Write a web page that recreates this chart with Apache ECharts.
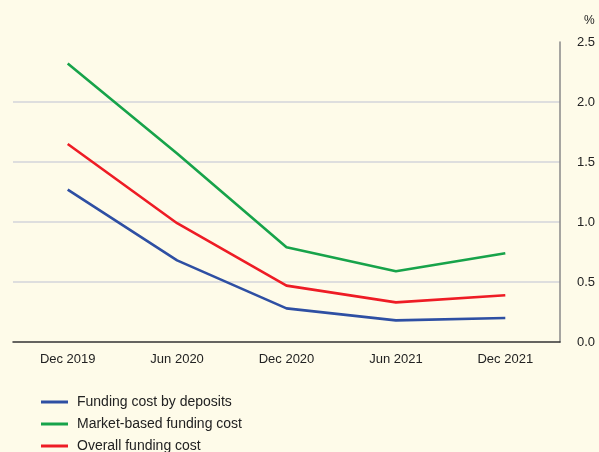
<!DOCTYPE html>
<html>
<head>
<meta charset="utf-8">
<script src="https://cdn.jsdelivr.net/npm/echarts@6/dist/echarts.min.js"></script>
<style>
  html, body { margin: 0; padding: 0; background: #fefbe9; }
  #chart { width: 599px; height: 452px; }
</style>
</head>
<body>
<div id="chart"></div>
<script>
// Funding costs, per cent
const periods = ['Dec 2019', 'Jun 2020', 'Dec 2020', 'Jun 2021', 'Dec 2021'];
const depositCost = [1.27, 0.68, 0.28, 0.18, 0.20];
const marketCost = [2.32, 1.57, 0.79, 0.59, 0.74];
const overallCost = [1.65, 0.99, 0.47, 0.33, 0.39];
const yTicks = { min: 0, max: 2.5, step: 0.5 };
const seriesNames = ['Funding cost by deposits', 'Market-based funding cost', 'Overall funding cost'];

const font = '"Liberation Sans", Arial, sans-serif';
const textColor = '#222';

const chart = echarts.init(document.getElementById('chart'), null, { renderer: 'canvas' });

function lineSeries(name, data, color) {
  return {
    name: name,
    type: 'line',
    data: data,
    symbol: 'none',
    lineStyle: { color: color, width: 2.6 },
    itemStyle: { color: color },
    z: 3
  };
}

// One legend row per series, stacked; the last row runs off the bottom edge
const legends = seriesNames.map((name, i) => ({
  orient: 'vertical',
  left: 41,
  top: 395 + i * 22,
  itemWidth: 27,
  itemHeight: 3,
  icon: 'rect',
  selectedMode: false,
  padding: 0,
  textStyle: { color: textColor, fontSize: 14, fontFamily: font, padding: [0, 0, 0, 4] },
  data: [name]
}));

chart.setOption({
  backgroundColor: '#fefbe9',
  animation: false,
  textStyle: { fontFamily: font },
  grid: { left: 13, right: 39, top: 42, bottom: 110 },
  graphic: [{
    type: 'text',
    left: 584,
    top: 15,
    style: { text: '%', fill: textColor, font: '12px ' + font }
  }],
  legend: legends,
  xAxis: {
    type: 'category',
    data: periods,
    boundaryGap: true,
    axisLine: { lineStyle: { color: '#333', width: 1.5 } },
    axisTick: { inside: true, length: 10, lineStyle: { color: '#333', width: 1.2 } },
    axisLabel: { color: textColor, fontSize: 13, fontFamily: font, margin: 11 },
    splitLine: { show: false }
  },
  yAxis: {
    type: 'value',
    position: 'right',
    min: yTicks.min,
    max: yTicks.max,
    interval: yTicks.step,
    axisLine: { show: true, lineStyle: { color: '#888', width: 1.5 } },
    axisTick: { show: false },
    axisLabel: {
      color: textColor, fontSize: 13, fontFamily: font, margin: 17,
      formatter: v => v.toFixed(1)
    },
    splitLine: { show: true, showMinLine: false, showMaxLine: false, lineStyle: { color: '#dedede', width: 2 } }
  },
  series: [
    lineSeries(seriesNames[0], depositCost, '#2e4fa3'),
    lineSeries(seriesNames[1], marketCost, '#17a34a'),
    lineSeries(seriesNames[2], overallCost, '#ee1c25')
  ]
});
</script>
</body>
</html>
